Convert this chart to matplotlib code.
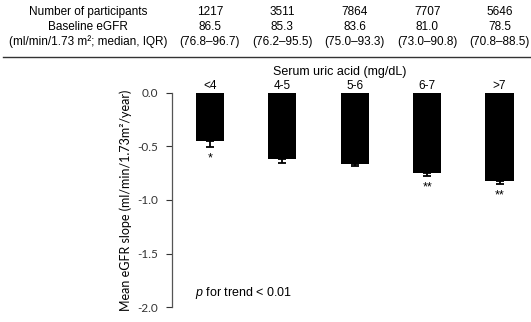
import matplotlib
matplotlib.use('Agg')
import matplotlib.pyplot as plt
import matplotlib.transforms as mtransforms

plt.rcParams['font.family'] = ['Liberation Sans', 'DejaVu Sans']
plt.rcParams['mathtext.fontset'] = 'custom'
plt.rcParams['mathtext.it'] = 'Liberation Sans:italic'
plt.rcParams['mathtext.rm'] = 'Liberation Sans'

# Data
groups = ['<4', '4-5', '5-6', '6-7', '>7']
n_participants = ['1217', '3511', '7864', '7707', '5646']
egfr_median = ['86.5', '85.3', '83.6', '81.0', '78.5']
egfr_iqr = ['(76.8\u201396.7)', '(76.2\u201395.5)', '(75.0\u201393.3)',
            '(73.0\u201390.8)', '(70.8\u201388.5)']
slope = [-0.45, -0.615, -0.66, -0.745, -0.82]
slope_err = [0.055, 0.04, 0.025, 0.03, 0.035]
stars = ['*', '', '', '**', '**']

W, H = 531, 322
fig = plt.figure(figsize=(W / 100, H / 100), dpi=100)
ax = fig.add_axes([172 / W, 1 - 307 / H, (W - 172) / W, (307 - 93) / H])

x = list(range(len(groups)))
ax.bar(x, slope, width=0.39, color='black', zorder=2)
lower = [[e for e in slope_err], [0] * len(slope_err)]
ax.errorbar(x, slope, yerr=lower, fmt='none', ecolor='black',
            elinewidth=1.3, capsize=3, capthick=1.3, zorder=3)

for xi, v, e, s in zip(x, slope, slope_err, stars):
    if s:
        ax.annotate(s, (xi, v - e), textcoords='offset points', xytext=(0, -8),
                    ha='center', va='center', fontsize=9)

ax.set_xlim(-0.525, 4.435)
ax.set_ylim(-2.0, 0.0)
ax.set_yticks([0.0, -0.5, -1.0, -1.5, -2.0])
ax.set_yticklabels(['0.0', '-0.5', '-1.0', '-1.5', '-2.0'],
                   family=['Lato', 'DejaVu Sans'], fontsize=8.5)
ax.tick_params(axis='y', length=4, width=0.8, pad=6, colors='#333333')
ax.set_ylabel('Mean eGFR slope (ml/min/1.73m\u00b2/year)',
              family=['Lato', 'DejaVu Sans'], fontsize=9, labelpad=4)

ax.xaxis.tick_top()
ax.set_xticks(x)
ax.set_xticklabels(groups, fontsize=8.5)
ax.tick_params(axis='x', length=0, pad=0.5)

for side in ['top', 'right', 'bottom']:
    ax.spines[side].set_visible(False)
ax.spines['left'].set_color('#555555')
ax.spines['left'].set_linewidth(0.9)

ax.text(-0.21, -1.87, r'$p$ for trend < 0.01', fontsize=9, va='center')

# Table above the chart
trans = mtransforms.blended_transform_factory(ax.transData, fig.transFigure)
fig.text(340 / W, 1 - 72 / H, 'Serum uric acid (mg/dL)', ha='center',
         va='center', fontsize=9)

label_x = 88 / W
fig.text(label_x, 1 - 12 / H, 'Number of participants', ha='center', va='center', fontsize=8.5)
fig.text(label_x, 1 - 27 / H, 'Baseline eGFR', ha='center', va='center', fontsize=8.5)
fig.text(label_x, 1 - 42 / H, '(ml/min/1.73 m\u00b2; median, IQR)', ha='center',
         va='center', fontsize=8.5)
for xi, n, m, iqr in zip(x, n_participants, egfr_median, egfr_iqr):
    ax.text(xi, 1 - 12 / H, n, transform=trans, ha='center', va='center', fontsize=8.5)
    ax.text(xi, 1 - 27 / H, m, transform=trans, ha='center', va='center', fontsize=8.5)
    ax.text(xi, 1 - 42 / H, iqr, transform=trans, ha='center', va='center', fontsize=8.5)

fig.add_artist(plt.Line2D([3 / W, 1.0], [1 - 57 / H, 1 - 57 / H],
                          transform=fig.transFigure, color='#333333', linewidth=1))

fig.savefig('out.png', dpi=100)
